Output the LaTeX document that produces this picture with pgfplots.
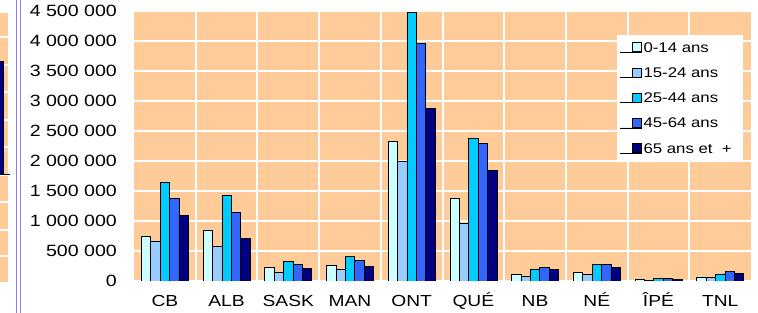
\documentclass[border=0pt]{standalone}
\usepackage{fontspec}
\setmainfont{Liberation Sans}[FakeStretch=1.2]
\usepackage{pgfplots}
\pgfplotsset{compat=1.18}
\definecolor{cA}{HTML}{CCFFFF}
\definecolor{cB}{HTML}{99CCFF}
\definecolor{cC}{HTML}{00CCFF}
\definecolor{cD}{HTML}{3366FF}
\definecolor{cE}{HTML}{000080}
\definecolor{peach}{HTML}{FFCC99}
\definecolor{sepblue}{HTML}{8080FF}
\begin{document}
\begin{tikzpicture}[x=1pt,y=1pt]
\useasboundingbox (0,0) rectangle (758,313);
% fragment of the neighbouring chart on the left
\fill[peach] (0,{313-281.7}) rectangle (8.3,{313-12.7});
\foreach \g in {37,65,91.7,120,146.7,175,201.7,230,256}{
  \draw[white,line width=2pt] (0,{313-\g}) -- (8.3,{313-\g});
}
\filldraw[fill=cE,draw=black,line width=0.6pt] (-1,{313-174}) rectangle (3.3,{313-61.7});
\draw[black,line width=0.8pt] (0,{313-174}) -- (10,{313-174});
\draw[sepblue,line width=1.4pt] (16.7,0) -- (16.7,313);
\draw[sepblue,line width=1.4pt] (20.7,0) -- (20.7,313);
\begin{axis}[
  at={(134pt,32pt)}, anchor=south west,
  scale only axis, width=617pt, height=270pt,
  xmin=-0.5, xmax=9.5, ymin=0, ymax=4500000,
  ybar=0pt, bar width=9.4pt,
  axis background/.style={fill=peach},
  axis line style={draw=none},
  major tick length=0pt, minor tick length=0pt,
  xtick={0,...,9},
  xticklabels={CB,ALB,SASK,MAN,ONT,QUÉ,NB,NÉ,ÎPÉ,TNL},
  minor xtick={0.5,1.5,...,8.5},
  xminorgrids, ymajorgrids,
  major grid style={white,line width=2pt},
  minor grid style={white,line width=2pt},
  scaled y ticks=false,
  ytick={0,500000,...,4500000},
  yticklabels={0,500 000,1 000 000,1 500 000,2 000 000,2 500 000,3 000 000,3 500 000,4 000 000,4 500 000},
  yticklabel style={anchor=east,inner sep=0pt,xshift=-17pt,font=\fontsize{16.3}{18}\selectfont},
  xticklabel style={anchor=base,inner sep=0pt,yshift=-26pt,font=\fontsize{16}{18}\selectfont},
  every axis plot/.append style={draw=black,line width=0.7pt},
  legend cell align=left,
  legend image code/.code={\path (-12.5pt,0pt) -- (9pt,0pt);\draw[#1,draw=black,line width=0.6pt] (0pt,0.5pt) rectangle (9pt,9.5pt);},
  legend style={at={(rel axis cs:0.987,0.911)},anchor=north east,draw=none,fill=white,
    font=\fontsize{14}{16}\selectfont,inner xsep=3pt,inner ysep=5.5pt,row sep=11.25pt,
    cells={anchor=base west},
    nodes={inner sep=1.5pt,text height=10pt,text depth=1pt}},
]
\addplot[fill=cA] coordinates {(0,738000) (1,845000) (2,228000) (3,261000) (4,2330000) (5,1380000) (6,111000) (7,145000) (8,28000) (9,67000)};
\addplot[fill=cB] coordinates {(0,655000) (1,572000) (2,145000) (3,200000) (4,1995000) (5,962000) (6,83000) (7,111000) (8,17000) (9,55000)};
\addplot[fill=cC] coordinates {(0,1640000) (1,1430000) (2,333000) (3,411000) (4,4480000) (5,2380000) (6,200000) (7,278000) (8,45000) (9,117000)};
\addplot[fill=cD] coordinates {(0,1380000) (1,1140000) (2,278000) (3,339000) (4,3955000) (5,2295000) (6,228000) (7,278000) (8,45000) (9,161000)};
\addplot[fill=cE] coordinates {(0,1095000) (1,705000) (2,211000) (3,245000) (4,2870000) (5,1845000) (6,195000) (7,233000) (8,33000) (9,133000)};
\legend{0-14 ans,15-24 ans,25-44 ans,45-64 ans,65 ans et\ \ +\hspace*{6.5pt}}
\end{axis}
\end{tikzpicture}
\end{document}
